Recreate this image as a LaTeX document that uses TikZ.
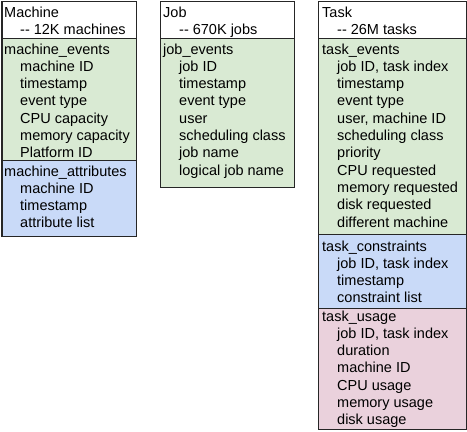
\documentclass[tikz,border=0pt]{standalone}
\usepackage{fontspec}
\setmainfont{Liberation Sans}
\definecolor{evgreen}{HTML}{D9EAD3}
\definecolor{atblue}{HTML}{C9DAF8}
\definecolor{uspink}{HTML}{EAD1DC}
\newcommand\sectlines[4]{%
  \foreach \t [count=\i from 1] in {#4} {\node[txt] (#3\i) at (#1,{#2+\i*17.3}) {\t};}}
\begin{document}
\begin{tikzpicture}[x=1pt,y=-1pt,
  sect/.style={draw=black!85, line width=1pt, anchor=north west, inner sep=0pt, outer sep=0pt},
  txt/.style={anchor=base west, inner sep=0pt, font=\fontsize{14.5}{17}\selectfont}]
\useasboundingbox (0,0) rectangle (467,432);
% Machine
\node[sect, fill=white, minimum width=134pt, minimum height=36.5pt] (mhead) at (2,1.5) {};
\node[sect, fill=evgreen, minimum width=134pt, minimum height=122.5pt] (mev) at (2,38) {};
\node[sect, fill=atblue, minimum width=134pt, minimum height=75.5pt] (matt) at (2,160.5) {};
\node[txt] (mt) at (4,17) {Machine};
\node[txt] (ms) at (20,34) {-\kern0pt- 12K machines};
\node[txt] (mevt) at (4,54) {machine\_events};
\sectlines{20}{54}{mevi}{machine ID, timestamp, event type, CPU capacity, memory capacity, Platform ID}
\node[txt] (mattt) at (4,176) {machine\_attributes};
\sectlines{20}{176}{matti}{machine ID, timestamp, attribute list}
% Job
\node[sect, fill=white, minimum width=134pt, minimum height=36.5pt] (jhead) at (160,1.5) {};
\node[sect, fill=evgreen, minimum width=134pt, minimum height=149pt] (jev) at (160,38) {};
\node[txt] (jt) at (163,17) {Job};
\node[txt] (js) at (179,34) {-\kern0pt- 670K jobs};
\node[txt] (jevt) at (163,54) {job\_events};
\sectlines{179}{54}{jevi}{job ID, timestamp, event type, user, scheduling class, job name, logical job name}
% Task
\node[sect, fill=white, minimum width=148pt, minimum height=36.5pt] (thead) at (318,1.5) {};
\node[sect, fill=evgreen, minimum width=148pt, minimum height=196pt] (tev) at (318,38) {};
\node[sect, fill=atblue, minimum width=148pt, minimum height=74pt] (tcon) at (318,234) {};
\node[sect, fill=uspink, minimum width=148pt, minimum height=121pt] (tuse) at (318,308) {};
\node[txt] (tt) at (322,17) {Task};
\node[txt] (ts) at (337,34) {-\kern0pt- 26M tasks};
\node[txt] (tevt) at (322,54) {task\_events};
\sectlines{337}{54}{tevi}{{job ID, task index}, timestamp, event type, {user, machine ID}, scheduling class, priority, CPU requested, memory requested, disk requested, different machine}
\node[txt] (tcont) at (322,251) {task\_constraints};
\sectlines{337}{251}{tconi}{{job ID, task index}, timestamp, constraint list}
\node[txt] (tuset) at (322,321) {task\_usage};
\sectlines{337}{321}{tusei}{{job ID, task index}, duration, machine ID, CPU usage, memory usage, disk usage}
\end{tikzpicture}
\end{document}
